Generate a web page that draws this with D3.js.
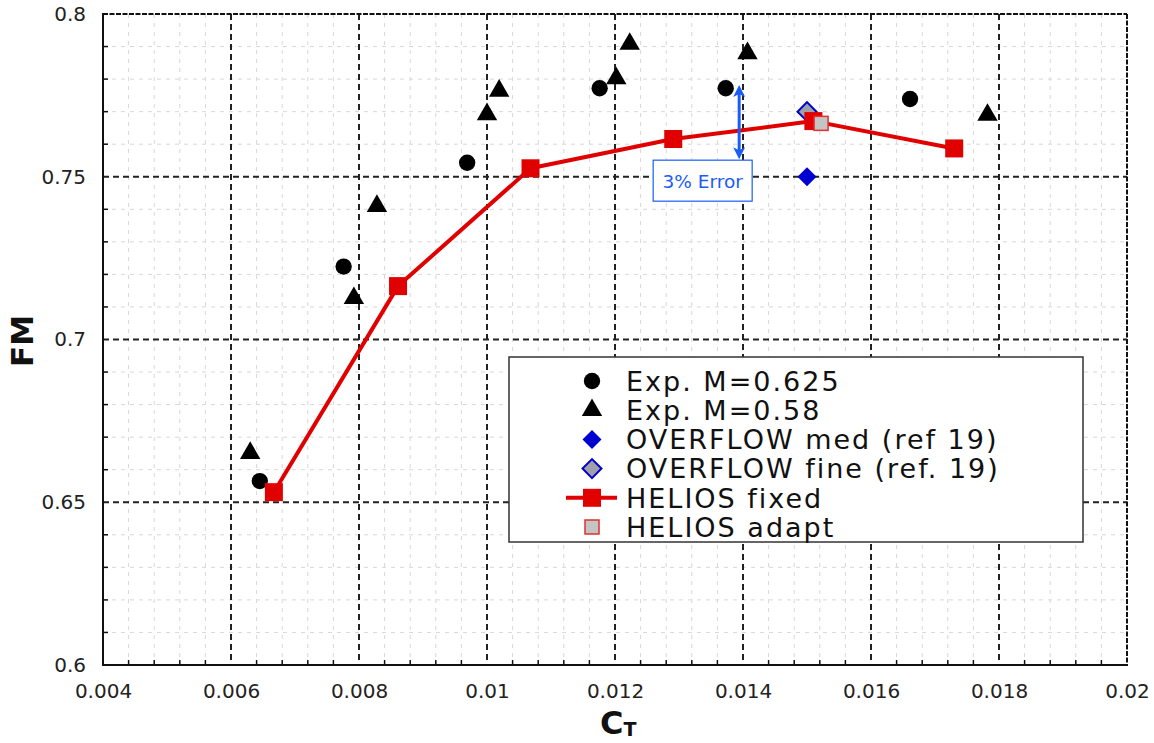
<!DOCTYPE html>
<html>
<head>
<meta charset="utf-8">
<script src="https://cdn.jsdelivr.net/npm/d3@7"></script>
<style>
  html, body { margin: 0; padding: 0; background: #fff; }
  svg { display: block; font-family: "DejaVu Sans", Verdana, sans-serif; }
</style>
</head>
<body>
<svg id="chart" width="1154" height="743"></svg>
<script>
// Experimental data, M = 0.625
const ctExp625 = [0.00645, 0.00776, 0.00969, 0.01176, 0.01373, 0.01661];
const fmExp625 = [0.6565, 0.7224, 0.7543, 0.7772, 0.7772, 0.7739];
// Experimental data, M = 0.58
const ctExp58 = [0.00630, 0.00792, 0.00828, 0.01000, 0.01019, 0.01202, 0.01223, 0.01407, 0.01782];
const fmExp58 = [0.6651, 0.7127, 0.7410, 0.7692, 0.7764, 0.7802, 0.7908, 0.7879, 0.7690];
// OVERFLOW results
const ctOvMed = [0.0150];
const fmOvMed = [0.7500];
const ctOvFine = [0.0150];
const fmOvFine = [0.7700];
// HELIOS results
const ctHelFixed = [0.00667, 0.00861, 0.01068, 0.01291, 0.01510, 0.01730];
const fmHelFixed = [0.6531, 0.7164, 0.7526, 0.7616, 0.7671, 0.7587];
const ctHelAdapt = [0.01522];
const fmHelAdapt = [0.7664];
// 3% error bar
const errCt = 0.01394;
const errFm = [0.7554, 0.7782];
const errLabel = "3% Error";

// Axis ticks
const xTicks = [0.004, 0.006, 0.008, 0.010, 0.012, 0.014, 0.016, 0.018, 0.020];
const xTickLabels = ["0.004", "0.006", "0.008", "0.01", "0.012", "0.014", "0.016", "0.018", "0.02"];
const yTicks = [0.60, 0.65, 0.70, 0.75, 0.80];
const yTickLabels = ["0.6", "0.65", "0.7", "0.75", "0.8"];

const legendLabels = ["Exp. M=0.625", "Exp. M=0.58", "OVERFLOW med (ref 19)",
  "OVERFLOW fine (ref. 19)", "HELIOS fixed", "HELIOS adapt"];

const RED = "#e00000";
const BLUE = "#0000d0";
const ANN = "#1a5cf5";

const svg = d3.select("#chart");
const L = 103, R = 1127, T = 14, B = 665;
const x = d3.scaleLinear().domain([0.004, 0.02]).range([L, R]);
const y = d3.scaleLinear().domain([0.6, 0.8]).range([B, T]);

const zip = (a, b) => a.map((v, i) => [v, b[i]]);

// Minor grid
const minorX = d3.range(0, 41).map(i => 0.004 + i * 0.0004).filter((v, i) => i % 5 !== 0);
const minorY = d3.range(0, 21).map(i => 0.6 + i * 0.01).filter((v, i) => i % 5 !== 0);
const grid = svg.append("g");
grid.selectAll(".mx").data(minorX).join("line")
  .attr("x1", d => x(d)).attr("x2", d => x(d)).attr("y1", T).attr("y2", B)
  .attr("stroke", "#d8d8d8").attr("stroke-width", 1).attr("stroke-dasharray", "4,5");
grid.selectAll(".my").data(minorY).join("line")
  .attr("x1", L).attr("x2", R).attr("y1", d => y(d)).attr("y2", d => y(d))
  .attr("stroke", "#d8d8d8").attr("stroke-width", 1).attr("stroke-dasharray", "4,5");

// Major grid
grid.selectAll(".Mx").data(xTicks.slice(1, -1)).join("line")
  .attr("x1", d => x(d)).attr("x2", d => x(d)).attr("y1", T).attr("y2", B)
  .attr("stroke", "#222").attr("stroke-width", 2).attr("stroke-dasharray", "6,4");
grid.selectAll(".My").data(yTicks.slice(1, -1)).join("line")
  .attr("x1", L).attr("x2", R).attr("y1", d => y(d)).attr("y2", d => y(d))
  .attr("stroke", "#222").attr("stroke-width", 2).attr("stroke-dasharray", "6,4");

// Frame: solid left/bottom, dashed top/right
svg.append("line").attr("x1", L).attr("x2", R).attr("y1", T).attr("y2", T)
  .attr("stroke", "#111").attr("stroke-width", 2).attr("stroke-dasharray", "5,1.5");
svg.append("line").attr("x1", R).attr("x2", R).attr("y1", T).attr("y2", B)
  .attr("stroke", "#111").attr("stroke-width", 2).attr("stroke-dasharray", "5,1.5");
svg.append("line").attr("x1", L).attr("x2", L).attr("y1", T - 1).attr("y2", B + 1)
  .attr("stroke", "#111").attr("stroke-width", 2);
svg.append("line").attr("x1", L - 1).attr("x2", R + 1).attr("y1", B).attr("y2", B)
  .attr("stroke", "#111").attr("stroke-width", 2);

// Inward minor ticks
svg.append("g").selectAll("line").data(minorX).join("line")
  .attr("x1", d => x(d)).attr("x2", d => x(d)).attr("y1", B).attr("y2", B - 5)
  .attr("stroke", "#111").attr("stroke-width", 1.5);
svg.append("g").selectAll("line").data(minorY).join("line")
  .attr("x1", L).attr("x2", L + 5).attr("y1", d => y(d)).attr("y2", d => y(d))
  .attr("stroke", "#111").attr("stroke-width", 1.5);

// Axis labels via d3 axes (lines hidden)
const xAxis = svg.append("g").attr("transform", `translate(0,${B})`)
  .call(d3.axisBottom(x).tickValues(xTicks).tickSize(0).tickPadding(19)
    .tickFormat((d, i) => xTickLabels[i]));
xAxis.select(".domain").remove();
xAxis.selectAll("text").attr("font-size", 20).attr("fill", "#222")
  .attr("font-family", "DejaVu Sans, sans-serif");

const yAxis = svg.append("g").attr("transform", `translate(${L},0)`)
  .call(d3.axisLeft(y).tickValues(yTicks).tickSize(0).tickPadding(17)
    .tickFormat((d, i) => yTickLabels[i]));
yAxis.select(".domain").remove();
yAxis.selectAll("text").attr("font-size", 20).attr("fill", "#222")
  .attr("font-family", "DejaVu Sans, sans-serif");

// Axis titles
svg.append("text").attr("transform", "translate(33,341) rotate(-90)")
  .attr("text-anchor", "middle").attr("font-size", 31).attr("font-weight", "bold")
  .attr("fill", "#111").text("FM");
const xt = svg.append("text").attr("x", 600).attr("y", 734)
  .attr("font-size", 32).attr("font-weight", "bold").attr("fill", "#111");
xt.append("tspan").text("C");
xt.append("tspan").attr("font-size", 19).attr("dy", 2).text("T");

// Symbols
const circleSym = d3.symbol().type(d3.symbolCircle).size(210);
const triSym = d3.symbol().type(d3.symbolTriangle).size(180);
const diamondSym = d3.symbol().type(d3.symbolSquare).size(180);
const marks = svg.append("g");

// OVERFLOW fine (under HELIOS)
marks.selectAll(".ovf").data(zip(ctOvFine, fmOvFine)).join("path")
  .attr("d", diamondSym)
  .attr("transform", d => `translate(${x(d[0])},${y(d[1])}) rotate(45)`)
  .attr("fill", "#a0a0a8").attr("stroke", BLUE).attr("stroke-width", 2);
// OVERFLOW med
marks.selectAll(".ovm").data(zip(ctOvMed, fmOvMed)).join("path")
  .attr("d", diamondSym)
  .attr("transform", d => `translate(${x(d[0])},${y(d[1])}) rotate(45)`)
  .attr("fill", BLUE);

// Experimental circles
marks.selectAll(".c625").data(zip(ctExp625, fmExp625)).join("path")
  .attr("d", circleSym)
  .attr("transform", d => `translate(${x(d[0])},${y(d[1])})`).attr("fill", "#000");
// Experimental triangles
marks.selectAll(".t58").data(zip(ctExp58, fmExp58)).join("path")
  .attr("d", triSym)
  .attr("transform", d => `translate(${x(d[0])},${y(d[1])})`).attr("fill", "#000");

// HELIOS fixed line + squares
const line = d3.line().x(d => x(d[0])).y(d => y(d[1]));
const helData = zip(ctHelFixed, fmHelFixed);
marks.append("path").datum(helData).attr("d", line)
  .attr("fill", "none").attr("stroke", RED).attr("stroke-width", 4)
  .attr("stroke-linejoin", "round");
marks.selectAll(".hf").data(helData).join("rect")
  .attr("x", d => x(d[0]) - 9).attr("y", d => y(d[1]) - 9)
  .attr("width", 18).attr("height", 18).attr("fill", RED);
// HELIOS adapt
marks.selectAll(".ha").data(zip(ctHelAdapt, fmHelAdapt)).join("rect")
  .attr("x", d => x(d[0]) - 7).attr("y", d => y(d[1]) - 7)
  .attr("width", 14).attr("height", 14).attr("fill", "#c4c4c4")
  .attr("stroke", "#e03030").attr("stroke-width", 1.5);

// 3% error annotation
const ex = x(errCt), ey0 = y(errFm[0]), ey1 = y(errFm[1]);
const ann = svg.append("g");
ann.append("line").attr("x1", ex).attr("x2", ex).attr("y1", ey1 + 8).attr("y2", ey0 - 8)
  .attr("stroke", ANN).attr("stroke-width", 3);
ann.append("path").attr("d", `M${ex},${ey1} L${ex - 6},${ey1 + 12} L${ex},${ey1 + 9} L${ex + 6},${ey1 + 12} Z`)
  .attr("fill", ANN);
ann.append("path").attr("d", `M${ex},${ey0} L${ex - 6},${ey0 - 12} L${ex},${ey0 - 9} L${ex + 6},${ey0 - 12} Z`)
  .attr("fill", ANN);
ann.append("rect").attr("x", ex - 86).attr("y", ey0 + 1).attr("width", 99).attr("height", 41)
  .attr("fill", "#fff").attr("stroke", ANN).attr("stroke-width", 1.2);
ann.append("text").attr("x", ex - 36.5).attr("y", ey0 + 28.5).attr("text-anchor", "middle")
  .attr("font-size", 18.5).attr("fill", ANN).text(errLabel);

// Legend
const lg = svg.append("g");
lg.append("rect").attr("x", 509).attr("y", 357).attr("width", 574).attr("height", 185)
  .attr("fill", "#fff").attr("stroke", "#333").attr("stroke-width", 1.5);
const rowY = i => 381 + i * 29.2;
const mx = 592;
lg.append("path").attr("d", circleSym).attr("transform", `translate(${mx},${rowY(0)})`).attr("fill", "#000");
lg.append("path").attr("d", triSym).attr("transform", `translate(${mx},${rowY(1)})`).attr("fill", "#000");
lg.append("path").attr("d", diamondSym).attr("transform", `translate(${mx},${rowY(2)}) rotate(45)`).attr("fill", BLUE);
lg.append("path").attr("d", diamondSym).attr("transform", `translate(${mx},${rowY(3)}) rotate(45)`)
  .attr("fill", "#a0a0a8").attr("stroke", BLUE).attr("stroke-width", 2);
lg.append("line").attr("x1", 566).attr("x2", 617).attr("y1", rowY(4)).attr("y2", rowY(4))
  .attr("stroke", RED).attr("stroke-width", 4);
lg.append("rect").attr("x", mx - 9).attr("y", rowY(4) - 9).attr("width", 18).attr("height", 18).attr("fill", RED);
lg.append("rect").attr("x", mx - 7).attr("y", rowY(5) - 7).attr("width", 14).attr("height", 14)
  .attr("fill", "#c4c4c4").attr("stroke", "#e03030").attr("stroke-width", 1.5);
lg.selectAll(".lt").data(legendLabels).join("text")
  .attr("x", 626).attr("y", (d, i) => rowY(i)).attr("dy", "0.36em")
  .attr("font-size", 27).attr("letter-spacing", 2).attr("fill", "#111").text(d => d);
</script>
</body>
</html>
